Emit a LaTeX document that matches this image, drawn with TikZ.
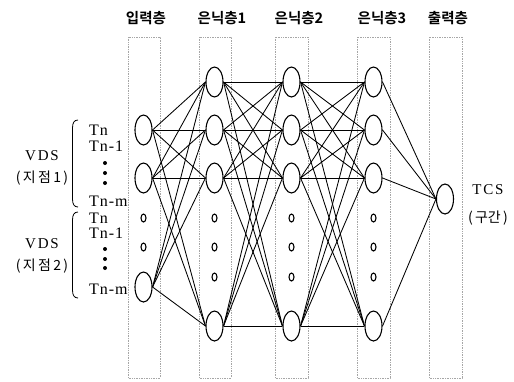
\documentclass[tikz,border=0pt]{standalone}
\usepackage{fontspec}
\setmainfont{Liberation Serif}
\newfontfamily\kr{Noto Sans CJK KR}
\newfontfamily\krb{Noto Sans CJK KR Bold}
\newfontfamily\sersp[LetterSpace=12]{Liberation Serif}
\newfontfamily\sertn[LetterSpace=6]{Liberation Serif}
\usetikzlibrary{shapes.geometric}
\begin{document}
\begin{tikzpicture}[x=1pt,y=-1pt,
  layerbox/.style={draw=gray!70, densely dotted, line width=0.7pt},
  neuron/.style={ellipse, draw, line width=1.1pt, minimum width=17pt, minimum height=30pt, inner sep=0pt},
  gapo/.style={ellipse, draw, line width=1.1pt, minimum width=5pt, minimum height=8pt, inner sep=0pt},
  link/.style={line width=0.85pt},
  title/.style={font=\krb\fontsize{14.5}{14.5}\selectfont},
  lbl/.style={font=\sersp\fontsize{15}{15}\selectfont, inner sep=0pt},
  krlbl/.style={font=\kr\fontsize{14}{14}\selectfont, inner sep=0pt},
  tlbl/.style={font=\sertn\fontsize{16}{16}\selectfont, inner sep=0pt, anchor=west}]
\useasboundingbox (0,0) rectangle (514,381);

% layer columns
\draw[layerbox] (128,37) rectangle (160,378);
\draw[layerbox] (199,37) rectangle (231,378);
\draw[layerbox] (275,37) rectangle (308,378);
\draw[layerbox] (357,37) rectangle (390,378);
\draw[layerbox] (429,37) rectangle (462,378);

% layer titles
\node[title] (t0) at (146,18) {입력층};
\node[title] (t1) at (222,18) {은닉층1};
\node[title] (t2) at (299,18) {은닉층2};
\node[title] (t3) at (382,18) {은닉층3};
\node[title] (t4) at (448,18) {출력층};

% input layer
\node[neuron, fill=white] (i1) at (143.5,130) {};
\node[neuron, fill=white] (i2) at (143.5,178) {};
\node[neuron, fill=white] (i3) at (143.5,287) {};
\node[gapo] (io1) at (143.5,218) {};
\node[gapo] (io2) at (143.5,247) {};

% hidden layers
\foreach \L/\x in {a/214.5, b/291.5, c/373.5} {
  \node[neuron] (\L1) at (\x,82) {};
  \node[neuron] (\L2) at (\x,130) {};
  \node[neuron] (\L3) at (\x,178) {};
  \node[neuron] (\L4) at (\x,326) {};
  \node[gapo] (\L o1) at (\x,218) {};
  \node[gapo] (\L o2) at (\x,247) {};
  \node[gapo] (\L o3) at (\x,277) {};
}

% output layer
\node[neuron] (o1) at (445,199) {};

% connections
\foreach \s in {1,2,3} \foreach \t in {1,2,3,4}
  \draw[link] (i\s.east) -- (a\t.west);
\foreach \s in {1,2,3,4} \foreach \t in {1,2,3,4} {
  \draw[link] (a\s.east) -- (b\t.west);
  \draw[link] (b\s.east) -- (c\t.west);
}
\foreach \s in {1,2,3,4}
  \draw[link] (c\s.east) -- (o1.west);

% input labels, station 1
\node[tlbl] (n1) at (89,130) {Tn};
\node[tlbl] (n2) at (89,146) {Tn-1};
\node[tlbl] (n3) at (89,201) {Tn-m};
\fill (105,163) circle (2) (105,173) circle (2) (105,183) circle (2);
% input labels, station 2
\node[tlbl] (m1) at (89,218) {Tn};
\node[tlbl] (m2) at (89,233) {Tn-1};
\node[tlbl] (m3) at (89,289) {Tn-m};
\fill (105,249) circle (2) (105,259) circle (2) (105,268) circle (2);
% cover the label ends under the input column edge
\draw[layerbox] (128,37) -- (128,378);

% brackets
\draw[line width=0.8pt] (78,120) .. controls (74,120) and (72.5,123) .. (72.5,128) -- (72.5,199) .. controls (72.5,204) and (74,207) .. (78,207);
\draw[line width=0.8pt] (78,212) .. controls (74,212) and (72.5,215) .. (72.5,220) -- (72.5,290) .. controls (72.5,295) and (74,298) .. (78,298);

% station names
\node[lbl] (v1) at (42,156) {VDS};
\node[krlbl] (v1k) at (42,178) {(\,지\,점\,1\,)};
\node[lbl] (v2) at (42,244) {VDS};
\node[krlbl] (v2k) at (42,266) {(\,지\,점\,2\,)};

% output label
\node[lbl] (tcs) at (488,190) {TCS};
\node[krlbl] (tcsk) at (488,218) {(\,구간\,)};
\end{tikzpicture}
\end{document}
